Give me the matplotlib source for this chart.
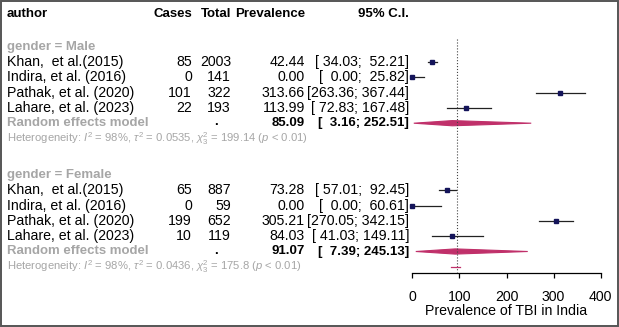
import matplotlib
matplotlib.use("Agg")
import matplotlib.pyplot as plt

plt.rcParams["font.family"] = ["Liberation Sans", "DejaVu Sans"]
plt.rcParams["mathtext.fontset"] = "custom"
plt.rcParams["mathtext.rm"] = "Liberation Sans"
plt.rcParams["mathtext.it"] = "Liberation Sans:italic"

# study rows, per subgroup
authors = ["Khan,  et al.(2015)", "Indira, et al. (2016)",
           "Pathak, et al. (2020)", "Lahare, et al. (2023)"]
male_cases = [85, 0, 101, 22]
male_total = [2003, 141, 322, 193]
male_prev = [42.44, 0.00, 313.66, 113.99]
male_lo = [34.03, 0.00, 263.36, 72.83]
male_hi = [52.21, 25.82, 367.44, 167.48]
male_pooled = [85.09, 3.16, 252.51]
male_het = r"Heterogeneity: $I^2$ = 98%, $\tau^2$ = 0.0535, $\chi^2_3$ = 199.14 ($p$ < 0.01)"

female_cases = [65, 0, 199, 10]
female_total = [887, 59, 652, 119]
female_prev = [73.28, 0.00, 305.21, 84.03]
female_lo = [57.01, 0.00, 270.05, 41.03]
female_hi = [92.45, 60.61, 342.15, 149.11]
female_pooled = [91.07, 7.39, 245.13]
female_het = r"Heterogeneity: $I^2$ = 98%, $\tau^2$ = 0.0436, $\chi^2_3$ = 175.8 ($p$ < 0.01)"

ref_value = 94
overall_band = [82, 101]
xticks = [0, 100, 200, 300, 400]

NAVY = "#14145a"
PINK = "#c0306a"
GREY = "#a6a6a6"
FS = 10.2
FSB = 9.5

W, H = 619, 327
fig = plt.figure(figsize=(W / 100, H / 100), dpi=100)

# text panel in pixel coordinates
tx = fig.add_axes([0, 0, 1, 1])
tx.set_xlim(0, W)
tx.set_ylim(H, 0)
tx.axis("off")
tx.add_patch(plt.Rectangle((0.8, 0.8), W - 1.6, H - 1.6, fill=False,
                           edgecolor="#555555", lw=1.4))

X_AUTH, X_CASES, X_TOTAL, X_PREV, X_CI = 7, 192, 231, 305, 409


def fmt_ci(lo, hi):
    return "[{:>6.2f}; {:>6.2f}]".format(lo, hi)


def txt(x, y, s, ha="left", **kw):
    if kw.get("fontweight") == "bold":
        kw.setdefault("fontsize", FSB)
    kw.setdefault("fontsize", FS)
    tx.text(x, y, s, ha=ha, va="center", **kw)


txt(X_AUTH, 14, "author", fontweight="bold")
txt(X_CASES, 14, "Cases", ha="right", fontweight="bold")
txt(X_TOTAL, 14, "Total", ha="right", fontweight="bold")
txt(X_PREV, 14, "Prevalence", ha="right", fontweight="bold")
txt(383, 14, "95% C.I.", ha="center", fontweight="bold")

groups = [
    ("gender = Male", 46.7, male_cases, male_total, male_prev, male_lo, male_hi,
     male_pooled, male_het),
    ("gender = Female", 175, female_cases, female_total, female_prev, female_lo,
     female_hi, female_pooled, female_het),
]

# forest panel: x in data units, y in pixel rows shared with the text
fx = fig.add_axes([412.3 / W, (H - 272.5) / H, 188.4 / W, (272.5 - 39) / H])
fx.set_xlim(0, 400)
fx.set_ylim(272.5, 39)
fx.patch.set_alpha(0)
for s in ["top", "right", "left"]:
    fx.spines[s].set_visible(False)
fx.spines["bottom"].set_linewidth(0.9)
fx.set_yticks([])
fx.set_xticks(xticks)
fx.tick_params(axis="x", direction="out", length=3.8, width=0.9, pad=9,
               labelsize=FS)
fx.set_xlabel("Prevalence of TBI in India", fontsize=FS, labelpad=0)
fx.plot([ref_value, ref_value], [39, 272.5], ls=":", color="#444444", lw=0.8,
        clip_on=False)

step = 15.3
for label, y0, cases, total, prev, lo, hi, pooled, het in groups:
    txt(X_AUTH, y0, label, color=GREY, fontweight="bold")
    for i, name in enumerate(authors):
        y = y0 + step * (i + 1)
        txt(X_AUTH, y, name)
        txt(X_CASES, y, str(cases[i]), ha="right")
        txt(X_TOTAL, y, str(total[i]), ha="right")
        txt(X_PREV, y, f"{prev[i]:.2f}", ha="right")
        txt(X_CI, y, fmt_ci(lo[i], hi[i]), ha="right")
        fx.plot([lo[i], hi[i]], [y, y], color="#222222", lw=0.9, clip_on=False)
        fx.plot(prev[i], y, marker="s", ms=2.8, color=NAVY, clip_on=False)
    y = y0 + step * 5
    txt(X_AUTH, y, "Random effects model", color=GREY, fontweight="bold")
    txt(216, y - 1, ".", ha="center", fontweight="bold")
    txt(X_PREV, y, f"{pooled[0]:.2f}", ha="right", fontweight="bold")
    txt(X_CI, y, fmt_ci(pooled[1], pooled[2]), ha="right", fontweight="bold")
    est, lo_p, hi_p = pooled
    fx.fill([lo_p, est, hi_p, est], [y, y - 2.6, y, y + 2.6], color=PINK,
            lw=0.8, ec=PINK, clip_on=False)
    txt(X_AUTH, y + step, het, color=GREY, fontsize=8.1)

fx.plot(overall_band, [266.7, 266.7], color=PINK, lw=0.9, clip_on=False)

fig.savefig("out.png", dpi=100)
